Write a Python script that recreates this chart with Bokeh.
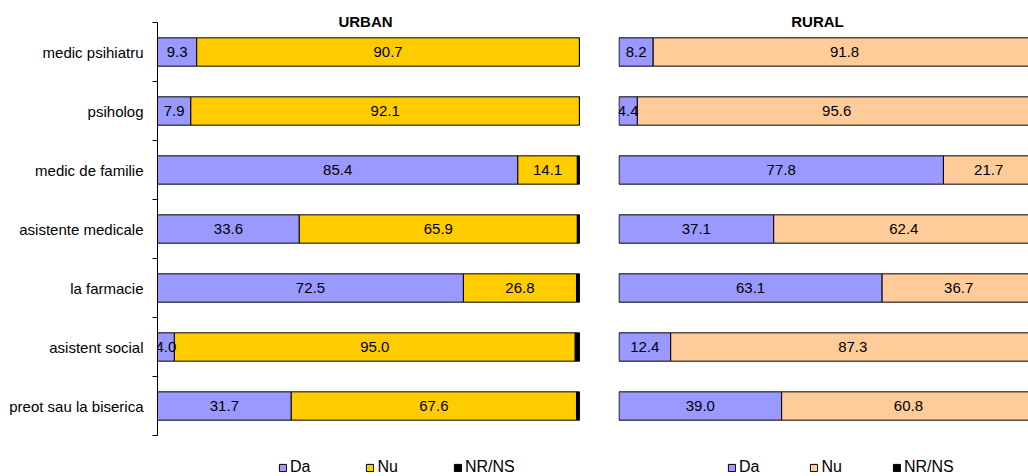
from bokeh.plotting import figure
from bokeh.layouts import row
from bokeh.models import (ColumnDataSource, FixedTicker, Label, Legend, LegendItem, Range1d)
from bokeh.embed import file_html
from bokeh.resources import INLINE
from bokeh.core.properties import value

categories = ["medic psihiatru", "psiholog", "medic de familie", "asistente medicale",
              "la farmacie", "asistent social", "preot sau la biserica"]
series = ["Da", "Nu", "NR/NS"]

urban_da = [9.3, 7.9, 85.4, 33.6, 72.5, 4.0, 31.7]
urban_nu = [90.7, 92.1, 14.1, 65.9, 26.8, 95.0, 67.6]
urban_nr = [0.0, 0.0, 0.5, 0.5, 0.7, 1.0, 0.7]

rural_da = [8.2, 4.4, 77.8, 37.1, 63.1, 12.4, 39.0]
rural_nu = [91.8, 95.6, 21.7, 62.4, 36.7, 87.3, 60.8]
rural_nr = [0.0, 0.0, 0.5, 0.5, 0.2, 0.3, 0.2]

FONT = "Liberation Sans"
n = len(categories)
ypos = [n - i - 0.5 for i in range(n)]
bounds = list(range(n + 1))

H = 476
BAND = 59.0
Y_TOP = n + 22 / BAND
Y_BOT = -(H - 435) / BAND


def panel(title, da, nu, nr, nu_color, show_axis, width, border_left, border_right,
          x_end, x_start, title_dx, leg_x, leg_spacing):
    src = ColumnDataSource(dict(y=ypos, cat=categories, Da=da, Nu=nu, NR=nr,
                                da_c=[d / 2 for d in da],
                                nu_c=[d + u / 2 for d, u in zip(da, nu)],
                                da_t=["%.1f" % v for v in da],
                                nu_t=["%.1f" % v for v in nu]))
    p = figure(width=width, height=H, output_backend="svg", toolbar_location=None,
               x_range=Range1d(x_start, x_end), y_range=Range1d(Y_BOT, Y_TOP),
               min_border_left=border_left, min_border_right=border_right,
               min_border_top=0, min_border_bottom=0)
    p.outline_line_color = None
    p.xgrid.visible = False
    p.ygrid.visible = False
    p.xaxis.visible = False
    rs = p.hbar_stack(["Da", "Nu", "NR"], y="y", height=0.48,
                      color=["#9999FF", nu_color, "#000000"],
                      line_color="black", line_width=1, source=src)
    for col, txt in (("da_c", "da_t"), ("nu_c", "nu_t")):
        p.text(x=col, y="y", text=txt, source=src, text_align="center",
               text_baseline="middle", text_font=value(FONT), text_font_size="15px",
               text_color="black")
    if show_axis:
        ax = p.yaxis[0]
        ax.bounds = (0, n)
        ax.ticker = FixedTicker(ticks=ypos, minor_ticks=bounds)
        ax.major_label_overrides = {y: c for y, c in zip(ypos, categories)}
        ax.major_tick_line_color = None
        ax.major_tick_out = 0
        ax.minor_tick_out = 5
        ax.minor_tick_in = 0
        ax.minor_tick_line_color = "black"
        ax.axis_line_color = "black"
        ax.major_label_standoff = 9
        ax.major_label_text_font = FONT
        ax.major_label_text_font_size = "15px"
        ax.major_label_text_color = "black"
    else:
        p.yaxis.visible = False
    p.add_layout(Label(x=50, y=n, text=title, text_align="center", text_baseline="middle",
                       x_offset=title_dx, y_offset=1, text_font=FONT,
                       text_font_size="15px", text_font_style="bold", text_color="black"))
    items = [LegendItem(label=s, renderers=[r]) for s, r in zip(series, rs)]
    leg = Legend(items=items, orientation="horizontal", location=(leg_x, 0),
                 glyph_width=9, glyph_height=9, label_standoff=3, spacing=leg_spacing,
                 padding=0, margin=0, border_line_color=None, background_fill_alpha=0,
                 label_text_font=FONT, label_text_font_size="16px", label_text_color="black")
    p.add_layout(leg, "center")
    return p


RSCALE = 4.17
p1 = panel("URBAN", urban_da, urban_nu, urban_nr, "#FFCC00", True, 598, 157, 18,
           100.25, 0, -3, 121, 55)
p2 = panel("RURAL", rural_da, rural_nu, rural_nr, "#FFCC99", False, 430, 20, 0,
           -0.12 + 410 / RSCALE, -0.12, -10, 109, 50)

layout = row(p1, p2)
open("out.html", "w").write(file_html(layout, INLINE))
